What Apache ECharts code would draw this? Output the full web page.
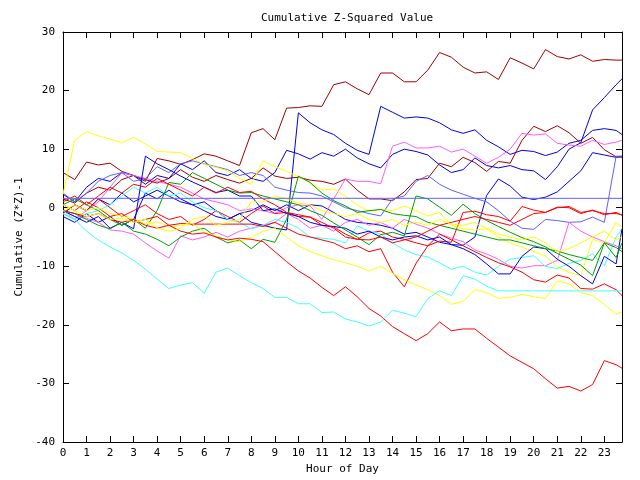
<!DOCTYPE html>
<html>
<head>
<meta charset="utf-8">
<script src="https://cdn.jsdelivr.net/npm/echarts@6/dist/echarts.min.js"></script>
<style>html,body{margin:0;padding:0;background:#fff}#chart{width:640px;height:480px}</style>
</head>
<body>
<div id="chart"></div>
<script>
var hours = [0,0.5,1,1.5,2,2.5,3,3.5,4,4.5,5,5.5,6,6.5,7,7.5,8,8.5,9,9.5,10,10.5,11,11.5,12,12.5,13,13.5,14,14.5,15,15.5,16,16.5,17,17.5,18,18.5,19,19.5,20,20.5,21,21.5,22,22.5,23,23.5,23.75];
var xTickLabels = ['0','1','2','3','4','5','6','7','8','9','10','11','12','13','14','15','16','17','18','19','20','21','22','23'];

var darkRedA = [6.0,4.8,7.8,7.3,7.6,6.2,5.5,4.5,8.4,8.0, 7.4,8.2,9.2,8.8,8.0,7.2,12.8,13.5,11.6,17.0, 17.1,17.4,17.3,21.0,21.5,20.3,19.3,23.0,23.0,21.5, 21.5,23.5,26.5,25.7,24.0,23.0,23.2,21.9,25.6,24.7, 23.7,27.0,25.8,25.4,26.1,25.0,25.3,25.2,25.2];
var darkRedB = [1.5,0.8,2.5,3.5,3.0,4.8,5.5,4.8,4.2,5.0, 6.5,5.2,4.5,5.5,4.8,4.2,5.0,6.8,5.4,5.0, 5.2,4.7,4.5,4.0,4.9,3.0,1.5,1.5,1.2,2.7, 4.8,5.0,7.6,7.0,8.6,7.7,6.2,7.9,7.6,11.5, 13.9,13.0,14.0,12.8,11.0,12.0,9.9,8.7,8.6];
var blueA = [2.3,1.0,3.5,5.0,4.5,6.0,5.5,4.0,5.5,5.0, 7.5,6.5,8.0,6.0,5.5,6.5,5.0,4.5,6.0,9.8, 9.2,8.3,9.4,8.8,10.0,8.5,7.5,6.8,9.1,10.0, 9.6,9.0,7.3,6.0,6.5,8.5,7.2,6.8,7.2,6.5, 6.3,4.8,7.0,10.0,11.1,16.7,18.8,21.0,22.0];
var blueB = [-1.0,0.5,-0.5,1.5,0.5,2.5,1.0,2.0,3.0,2.0, 1.0,0.5,-0.5,-1.5,-2.0,-1.0,-2.5,-3.0,-3.5,-3.8, 16.2,14.5,13.3,12.5,11.0,9.8,9.1,17.3,16.3,15.3, 15.5,15.3,14.5,13.3,12.7,13.3,11.5,10.4,9.1,9.8, 9.6,8.9,9.5,11.0,11.5,13.2,13.5,13.2,12.5];
var blueC = [-1.5,-2.5,-1.0,-2.5,-1.5,-3.0,-2.0,2.5,1.5,3.0, 1.5,0.5,1.0,-0.5,-2.0,-1.0,-0.5,0.5,-0.5,0.5, -0.5,0.5,0.3,-0.8,-2.0,-2.5,-2.7,-3.0,-3.5,-4.5, -4.2,-5.0,-5.9,-6.3,-6.4,-5.0,2.1,4.9,3.7,1.8, 1.4,1.8,2.7,4.5,6.3,9.4,9.0,8.6,8.8];
var blueD = [-0.5,-1.5,-2.5,-1.5,-3.5,-2.5,-3.6,8.8,7.5,6.5, 5.4,4.4,3.5,2.6,3.0,2.0,2.0,-0.5,-0.2,-1.0, -1.5,-2.5,-3.0,-3.2,-3.5,-4.5,-4.0,-5.0,-5.5,-5.0, -4.8,-5.5,-5.0,-6.3,-7.0,-8.0,-9.6,-11.3,-11.3,-8.3, -6.7,-7.0,-8.8,-10.0,-11.6,-13.0,-8.3,-9.6,-3.6];
var magentaA = [-1.0,-2.0,-0.5,1.0,3.5,6.0,5.5,5.0,4.5,4.0, 3.5,2.5,1.5,1.0,0.5,-0.5,-0.2,-0.5,-1.0,0.0, 0.5,0.3,-2.0,1.5,4.9,4.5,4.5,4.1,10.5,11.2, 10.2,10.2,10.5,9.5,10.0,8.8,7.6,8.6,10.0,12.7, 12.4,12.6,11.0,10.7,10.5,11.5,10.8,11.2,11.5];
var magentaB = [-0.5,-1.5,-1.8,-2.5,-3.8,-4.0,-4.5,-6.0,-7.4,-8.6, -4.8,-5.5,-5.0,-4.2,-5.0,-4.0,-3.5,-3.0,-2.5,-1.0, -2.0,-3.5,-3.0,-4.0,-2.5,-2.0,-3.0,-2.5,-3.5,-2.0, -2.8,-3.5,-4.5,-5.2,-5.8,-7.2,-7.9,-8.8,-10.0,-10.3, -9.9,-9.9,-9.0,-2.5,-4.0,-5.0,-5.8,-6.5,-7.0];
var lightBlueA = [2.5,1.0,2.5,4.5,5.5,6.0,4.5,5.0,7.0,6.0, 7.5,8.0,7.5,7.0,6.5,5.5,6.0,5.5,3.5,3.0, 2.6,2.5,2.0,1.0,0.0,-0.5,-1.0,-1.4,1.5,2.0, 4.5,5.5,4.0,3.0,2.3,1.6,1.0,-0.5,-2.3,-3.5, -3.7,-2.0,-2.2,-2.5,-2.4,-1.6,-2.5,8.8,8.8];
var flatHours = [0, 23.75];
var flatValues = [1.6, 1.6];
var redA = [-1.0,0.5,-0.5,1.5,0.0,-1.5,-0.5,0.5,-1.0,-2.0, -1.5,-3.0,-2.0,-0.5,-1.5,-2.5,-1.0,0.3,-1.0,-0.8, -1.5,-1.6,-3.0,-3.3,-4.5,-5.4,-4.3,-4.0,-5.0,-5.4, -6.0,-6.5,-5.7,-5.9,-0.8,-0.6,-1.2,-1.5,-2.3,0.2, -0.4,-0.8,0.1,0.0,-1.0,-0.4,-1.2,-0.8,-1.3];
var redB = [0.5,-0.5,1.0,0.0,-1.5,-1.0,-2.5,-2.0,-1.5,-3.0, -2.7,-2.8,-2.8,-2.8,-2.8,-2.8,-2.8,-3.2,-2.5,-3.5, -4.5,-5.0,-5.5,-6.0,-7.0,-6.5,-7.5,-7.0,-11.0,-13.5, -9.5,-6.5,-4.5,-5.5,-6.5,-7.5,-8.5,-9.4,-10.1,-11.0, -12.3,-12.7,-11.5,-12.0,-13.8,-13.9,-13.0,-14.0,-15.0];
var redC = [-0.5,-1.0,-1.5,-1.0,-2.0,-2.5,-2.0,-3.0,-3.5,-3.0, -4.0,-4.5,-4.3,-5.0,-5.5,-5.2,-5.4,-5.8,-7.5,-9.2, -10.8,-12.0,-13.6,-15.0,-13.5,-15.2,-17.2,-18.5,-20.3,-21.5, -22.7,-21.5,-19.5,-21.0,-20.7,-20.7,-22.3,-23.8,-25.3,-26.4, -27.5,-29.2,-30.8,-30.5,-31.3,-30.2,-26.1,-26.8,-27.4];
var redD = [1.0,2.0,0.5,2.0,3.5,2.5,4.0,3.5,5.0,4.0, 3.0,2.0,3.5,2.5,3.5,2.6,2.8,1.5,0.5,-0.8, -1.2,-1.6,-2.5,-3.5,-5.0,-5.4,-5.5,-5.0,-6.0,-5.5, -5.0,-4.0,-3.0,-2.5,-2.0,-1.5,-2.0,-2.5,-3.0,-2.0, -1.0,-0.8,0.0,0.2,-0.8,-0.5,-1.0,-1.0,-1.2];
var yellowA = [2.3,11.5,13.0,12.3,11.7,11.1,12.0,10.9,9.6,9.5, 9.4,8.4,7.4,6.9,6.3,5.0,4.0,8.0,7.0,6.2, 5.3,4.3,3.0,3.2,2.0,0.5,-0.6,-0.3,-0.5,0.3, -0.5,-1.4,-0.8,-3.0,-3.6,-3.8,-3.6,-5.0,-6.0,-6.7, -7.5,-8.2,-10.1,-11.0,-11.6,-5.4,-6.0,-2.5,-3.3];
var yellowB = [-0.5,0.5,-0.5,0.0,-1.0,-1.4,-2.0,-2.8,-2.4,-3.3, -3.0,-2.7,-4.2,-4.8,-5.5,-5.8,-5.0,-4.0,-3.5,-5.0, -6.5,-7.5,-8.2,-8.9,-9.4,-10.0,-10.8,-10.0,-11.2,-12.3, -13.2,-14.0,-15.0,-16.5,-16.0,-14.0,-14.5,-15.5,-15.3,-14.8, -15.2,-15.5,-12.5,-13.0,-14.5,-15.0,-16.5,-18.2,-17.8];
var yellowC = [0.5,-0.5,-1.5,-1.0,-2.0,-1.8,-2.5,-2.0,-3.5,-4.0, -3.5,-2.0,-1.5,-3.0,-2.5,-2.0,1.0,1.0,2.0,1.5, 0.8,0.5,-0.5,-1.0,-1.5,-1.0,-2.0,-2.5,-2.0,-3.0, -2.5,-3.0,-2.0,-2.8,-3.0,-2.5,-3.5,-4.5,-5.0,-5.5, -5.0,-6.0,-7.5,-7.0,-6.0,-5.0,-4.0,-5.5,-5.0];
var cyanA = [-1.0,-2.0,-1.0,-0.5,0.5,2.0,3.5,2.5,3.5,2.0, 2.5,1.0,0.0,-0.5,-2.0,-2.5,-3.6,-3.0,-2.0,-2.5, -3.5,-5.0,-5.2,-5.4,-6.0,-3.1,-4.0,-4.5,-6.0,-7.2, -8.0,-8.4,-9.4,-10.5,-10.0,-11.0,-11.5,-10.0,-8.8,-8.5, -8.2,-10.0,-10.4,-9.5,-9.0,-7.9,-9.9,-5.0,-3.6];
var cyanB = [-0.5,-2.0,-4.0,-5.5,-6.7,-7.7,-9.0,-10.5,-12.2,-13.8, -13.2,-12.8,-14.6,-11.0,-10.3,-11.6,-12.8,-13.8,-15.3,-15.3, -16.4,-16.4,-17.9,-17.8,-19.0,-19.5,-20.2,-19.5,-17.5,-18.0, -18.6,-15.5,-14.2,-15.0,-11.6,-12.2,-13.4,-14.2,-14.2,-14.2, -14.2,-14.2,-14.2,-14.2,-14.2,-14.2,-14.2,-14.2,-14.2];
var greenA = [0.5,1.5,0.5,-0.5,-2.0,-3.0,-2.0,-3.5,-0.5,4.3, 4.0,6.0,5.0,4.0,3.0,2.5,2.6,2.0,1.5,1.0, 0.5,-0.5,-1.3,-2.6,-3.8,-5.0,-6.3,-4.6,-4.2,-4.8, 2.0,1.5,0.1,-1.3,0.6,-1.0,-2.2,-3.2,-4.2,-5.1, -5.8,-6.7,-7.8,-8.8,-9.8,-11.6,-6.0,-6.8,-7.5];
var greenB = [-0.5,-1.0,-2.0,-3.0,-3.6,-2.5,-4.0,-4.5,-5.4,-6.5, -5.0,-4.0,-3.5,-5.0,-6.0,-5.5,-7.0,-5.4,-5.9,-2.0, 5.4,4.3,2.5,1.2,0.3,-0.8,-0.5,-0.3,-1.0,-1.3, -1.5,-2.5,-3.0,-3.5,-4.0,-4.5,-5.0,-5.5,-5.5,-6.0, -6.5,-7.0,-7.4,-8.0,-8.5,-9.0,-6.0,-8.5,-6.0];

var C = {red:'#ff0000', darkred:'#a00000', blue:'#0000e8', lightblue:'#6060ff', green:'#00a000', magenta:'#ff5cff', cyan:'#40ffff', yellow:'#ffff00'};

var seriesDefs = [
  [darkRedA, C.darkred], [darkRedB, C.darkred], [blueA, C.blue], [blueB, C.blue], [blueC, C.blue],
  [magentaA, C.magenta], [lightBlueA, C.lightblue], [redA, C.red], [magentaB, C.magenta], [yellowA, C.yellow],
  [cyanA, C.cyan], [blueD, C.blue], [greenA, C.green], [greenB, C.green], [redB, C.red],
  [yellowB, C.yellow], [redC, C.red], [cyanB, C.cyan], [redD, C.red], [yellowC, C.yellow]
];

var FONT = 'DejaVu Sans Mono';
var series = seriesDefs.map(function (d) {
  return {
    type: 'line', showSymbol: false, symbol: 'none', smooth: false, animation: false,
    lineStyle: {color: d[1], width: 1}, itemStyle: {color: d[1]},
    data: hours.map(function (h, i) { return [h, d[0][i]]; })
  };
});
series.push({
  type: 'line', showSymbol: false, symbol: 'none', animation: false,
  lineStyle: {color: C.lightblue, width: 1},
  data: flatHours.map(function (h, i) { return [h, flatValues[i]]; })
});

function xLabel(v) {
  var idx = xTickLabels.indexOf(String(v));
  return idx >= 0 ? xTickLabels[idx] : '';
}

function axisCommon() {
  return {
    axisLine: {show: true, onZero: false, lineStyle: {color: '#000', width: 1}},
    axisTick: {show: true, inside: true, length: 6, lineStyle: {color: '#000', width: 1}},
    splitLine: {show: false}
  };
}

var chart = echarts.init(document.getElementById('chart'), null, {renderer: 'canvas'});
chart.setOption({
  animation: false,
  backgroundColor: '#fff',
  title: {
    text: 'Cumulative Z-Squared Value', left: 256, top: 8,
    textStyle: {fontFamily: FONT, fontSize: 11, fontWeight: 'normal', color: '#000'}
  },
  grid: {left: 63, right: 18, top: 32, bottom: 36, containLabel: false},
  xAxis: [
    Object.assign({
      type: 'value', position: 'bottom', min: 0, max: 23.75, interval: 1,
      name: 'Hour of Day', nameLocation: 'middle', nameGap: 22,
      nameTextStyle: {fontFamily: FONT, fontSize: 11, color: '#000'},
      axisLabel: {formatter: xLabel, fontFamily: FONT, fontSize: 11, color: '#000', margin: 6, showMaxLabel: false}
    }, axisCommon()),
    Object.assign({
      type: 'value', position: 'top', min: 0, max: 23.75, interval: 1,
      axisLabel: {show: false}
    }, axisCommon())
  ],
  yAxis: [
    Object.assign({
      type: 'value', position: 'left', min: -40, max: 30, interval: 10,
      name: 'Cumulative (Z*Z)-1', nameLocation: 'middle', nameGap: 32,
      nameTextStyle: {fontFamily: FONT, fontSize: 11, color: '#000'},
      axisLabel: {fontFamily: FONT, fontSize: 11, color: '#000', margin: 8}
    }, axisCommon()),
    Object.assign({
      type: 'value', position: 'right', min: -40, max: 30, interval: 10,
      axisLabel: {show: false}
    }, axisCommon())
  ],
  series: series
});
</script>
</body>
</html>
